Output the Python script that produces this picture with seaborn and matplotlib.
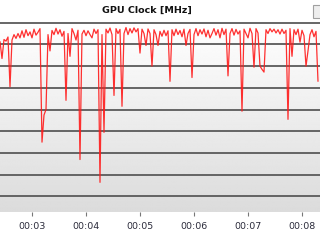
import numpy as np
import pandas as pd
import matplotlib
matplotlib.use("Agg")
import matplotlib.pyplot as plt
import seaborn as sns
from matplotlib.patches import Rectangle

# GPU clock samples (MHz)
gpu_clock = [
    1625, 1470, 1645, 1630, 1668, 1210, 1640, 1690, 1655, 1700,
    1660, 1725, 1665, 1735, 1680, 1715, 1660, 1740, 1685, 1712,
    1745, 700, 950, 1000, 1690, 1540, 1728, 1690, 1748, 1695,
    1735, 1675, 1720, 1085, 1700, 1490, 1745, 1700, 1640, 1730,
    540, 1695, 1730, 1680, 1725, 1690, 1660, 1740, 1700, 1735,
    330, 1690, 790, 1740, 1705, 1750, 1690, 1130, 1745, 1700,
    1738, 1030, 1700, 1755, 1690, 1745, 1705, 1752, 1715, 1745,
    1520, 1740, 1700, 1590, 1742, 1700, 1400, 1735, 1690, 1590,
    1720, 1675, 1730, 1680, 1725, 1260, 1735, 1680, 1740, 1690,
    1728, 1670, 1740, 1590, 1700, 1738, 1295, 1690, 1745, 1680,
    1735, 1695, 1742, 1670, 1730, 1660, 1700, 1745, 1685, 1735,
    1660, 1748, 1690, 1740, 1310, 1700, 1745, 1685, 1738, 1695,
    1725, 985, 1740, 1700, 1660, 1748, 1700, 1390, 1745, 1705,
    1400, 1370, 1345, 1735, 1700, 1745, 1715, 1740, 1705, 1735,
    1695, 1740, 1700, 1730, 910, 1745, 1490, 1735, 1690, 1740,
    1620, 1730, 1680, 1400, 1540, 1690, 1735, 1670, 1720, 1260,
]
t_start = 2.407          # minutes at first sample
t_step = 2.0 / 54.0      # minutes per sample
tick_vals = [3, 4, 5, 6, 7, 8]
tick_labels = ["00:03", "00:04", "00:05", "00:06", "00:07", "00:08"]
grid_vals = [200, 400, 600, 800, 1000, 1200, 1400, 1600, 1800]
title = "GPU Clock [MHz]"

time_min = t_start + t_step * np.arange(len(gpu_clock))
df = pd.DataFrame({"time": time_min, "clock": gpu_clock})

sns.set_style("white")
fig = plt.figure(figsize=(3.2, 2.4), dpi=100)
fig.patch.set_facecolor("white")
ax = fig.add_axes([0.0, 1 - 212 / 240, 1.0, 190 / 240])

# background gradient
grad = np.linspace(1.0, 0.86, 256).reshape(-1, 1)
ax.imshow(grad, extent=[0, 1, 0, 1], transform=ax.transAxes, aspect="auto",
          cmap="gray", vmin=0, vmax=1, zorder=0, interpolation="bilinear")

ax.set_yticks(grid_vals)
ax.yaxis.grid(True, color="#5a5a5a", linewidth=1.3, zorder=1)
ax.set_axisbelow(False)

sns.lineplot(data=df, x="time", y="clock", ax=ax, color="#ff1a1a",
             linewidth=0.9, alpha=0.9, zorder=3)

ax.set_xlim(t_start, t_start + 320 / 54)
ax.set_ylim(57, 1806)
ax.set_xticks(tick_vals)
ax.set_xticklabels(tick_labels)
ax.tick_params(axis="x", direction="out", length=3, width=0.8, color="#777777",
               labelsize=6.8, labelcolor="#2b2b3b", pad=4, bottom=True)
ax.tick_params(axis="y", left=False, labelleft=False)
ax.set_xlabel("")
ax.set_ylabel("")
for s in ax.spines.values():
    s.set_visible(False)

fig.text(147 / 320, 1 - 10 / 240, title, ha="center", va="center",
         fontsize=6.8, fontweight="bold", color="#111111")
fig.patches.append(Rectangle((313 / 320, 1 - 18 / 240), 10 / 320, 13 / 240,
                             transform=fig.transFigure, facecolor="#eeeeee",
                             edgecolor="#a0a0a0", linewidth=0.8))

fig.savefig("out.png", dpi=100)
